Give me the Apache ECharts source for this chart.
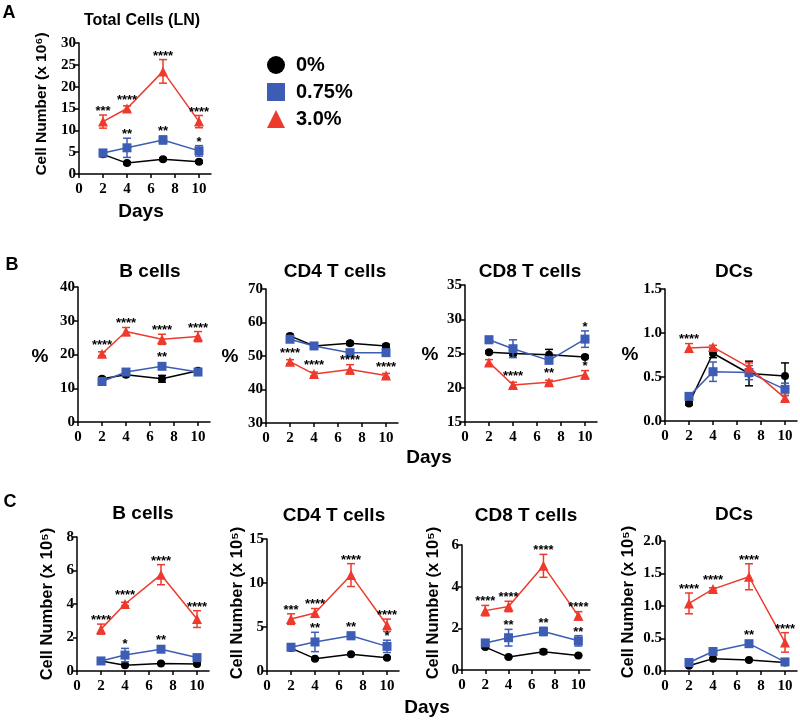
<!DOCTYPE html>
<html><head><meta charset="utf-8">
<script src="https://cdn.jsdelivr.net/npm/echarts@6/dist/echarts.min.js"></script>
<style>html,body{margin:0;padding:0;background:#fff}#c{width:800px;height:723px}</style>
</head><body><div id="c"></div><script>
// ---------------- DATA ----------------
const days = [2, 4, 7, 10];
const groupNames = ['0%', '0.75%', '3.0%'];
const xTicks = [0, 2, 4, 6, 8, 10];

// A: Total cells (LN), cell number x10^6   [0%, 0.75%, 3.0%]
const totalMean = [[4.5, 2.5, 3.4, 2.8], [4.8, 6.0, 7.8, 5.3], [12.0, 15.0, 23.5, 12.0]];
const totalErr = [[0.3, 0.3, 0.3, 0.3], [0.8, 2.2, 0.9, 1.2], [1.5, 0.6, 2.7, 1.4]];
const totalStars = [['', '', '', ''], ['', '**', '**', '*'], ['***', '****', '****', '****']];
const totalYTicks = [0, 5, 10, 15, 20, 25, 30];

// B: percentages
const bPctMean = [[12.8, 14.0, 12.8, 15.2], [12.0, 14.8, 16.5, 14.8], [20.2, 26.8, 24.5, 25.3]];
const bPctErr = [[0.5, 0.5, 1.0, 0.5], [0.6, 0.8, 0.8, 0.8], [0.6, 1.2, 1.5, 1.5]];
const bPctStars = [['', '', '', ''], ['', '', '**', ''], ['****', '****', '****', '****']];
const bPctYTicks = [0, 10, 20, 30, 40];

const cd4PctMean = [[56.0, 53.0, 53.8, 53.0], [55.0, 53.0, 51.0, 51.0], [48.3, 44.6, 46.0, 44.2]];
const cd4PctErr = [[0.5, 0.4, 0.5, 0.5], [0.6, 0.5, 0.6, 0.5], [0.6, 0.6, 1.4, 0.6]];
const cd4PctStars = [['', '', '', ''], ['', '', '*', ''], ['****', '****', '****', '****']];
const cd4PctYTicks = [30, 40, 50, 60, 70];

const cd8PctMean = [[25.2, 25.0, 24.8, 24.5], [27.0, 25.7, 24.0, 27.1], [23.7, 20.4, 20.8, 21.9]];
const cd8PctErr = [[0.2, 0.3, 0.8, 0.2], [0.5, 1.3, 0.4, 1.2], [0.4, 0.4, 0.3, 0.6]];
const cd8PctStars = [['', '', '', ''], ['', '', '', '*'], ['', '****', '**', '*']];
const cd8PctYTicks = [15, 20, 25, 30, 35];

const dcPctMean = [[0.20, 0.77, 0.54, 0.51], [0.28, 0.56, 0.55, 0.36], [0.83, 0.84, 0.61, 0.26]];
const dcPctErr = [[0.02, 0.05, 0.14, 0.15], [0.03, 0.11, 0.08, 0.07], [0.05, 0.02, 0.05, 0.03]];
const dcPctStars = [['', '', '', ''], ['', '', '', ''], ['****', '', '', '']];
const dcPctYTicks = [0, 0.5, 1.0, 1.5];

// C: cell numbers x10^5
const bNumMean = [[0.60, 0.35, 0.45, 0.42], [0.60, 0.95, 1.30, 0.80], [2.50, 4.00, 5.75, 3.10]];
const bNumErr = [[0.05, 0.05, 0.05, 0.05], [0.10, 0.40, 0.15, 0.15], [0.30, 0.10, 0.60, 0.50]];
const bNumStars = [['', '', '', ''], ['', '*', '**', ''], ['****', '****', '****', '****']];
const bNumYTicks = [0, 2, 4, 6, 8];

const cd4NumMean = [[2.6, 1.4, 1.9, 1.5], [2.7, 3.3, 4.0, 2.8], [5.9, 6.6, 10.9, 5.2]];
const cd4NumErr = [[0.1, 0.1, 0.1, 0.1], [0.2, 1.1, 0.4, 0.7], [0.6, 0.5, 1.3, 0.7]];
const cd4NumStars = [['', '', '', ''], ['', '**', '**', '*'], ['***', '****', '****', '****']];
const cd4NumYTicks = [0, 5, 10, 15];

const cd8NumMean = [[1.10, 0.62, 0.88, 0.70], [1.30, 1.55, 1.85, 1.40], [2.85, 3.05, 5.00, 2.60]];
const cd8NumErr = [[0.05, 0.03, 0.10, 0.03], [0.15, 0.40, 0.20, 0.25], [0.25, 0.25, 0.55, 0.20]];
const cd8NumStars = [['', '', '', ''], ['', '**', '**', '**'], ['****', '****', '****', '****']];
const cd8NumYTicks = [0, 2, 4, 6];

const dcNumMean = [[0.08, 0.19, 0.17, 0.13], [0.13, 0.30, 0.42, 0.14], [1.04, 1.26, 1.45, 0.44]];
const dcNumErr = [[0.01, 0.01, 0.01, 0.01], [0.02, 0.03, 0.03, 0.02], [0.16, 0.02, 0.20, 0.15]];
const dcNumStars = [['', '', '', ''], ['', '', '**', ''], ['****', '****', '****', '****']];
const dcNumYTicks = [0, 0.5, 1.0, 1.5, 2.0];

// ---------------- LAYOUT / STYLE ----------------
const colors = ['#000000', '#3d5cb4', '#ee3a2c'];
const symbols = ['circle', 'rect', 'triangle'];
const symbolSizes = [8, 9, 10];
const SANS = '"Liberation Sans", Arial, sans-serif';
const SERIF = '"Liberation Serif", "Times New Roman", serif';

const panels = [
  {mean: totalMean, err: totalErr, stars: totalStars, yt: totalYTicks, dec: 0, left: 79, top: 43, width: 132, height: 131},
  {mean: bPctMean, err: bPctErr, stars: bPctStars, yt: bPctYTicks, dec: 0, left: 78, top: 287, width: 132, height: 135},
  {mean: cd4PctMean, err: cd4PctErr, stars: cd4PctStars, yt: cd4PctYTicks, dec: 0, left: 266, top: 289, width: 132, height: 134},
  {mean: cd8PctMean, err: cd8PctErr, stars: cd8PctStars, yt: cd8PctYTicks, dec: 0, left: 465, top: 285, width: 132, height: 137},
  {mean: dcPctMean, err: dcPctErr, stars: dcPctStars, yt: dcPctYTicks, dec: 1, left: 665, top: 289, width: 132, height: 132},
  {mean: bNumMean, err: bNumErr, stars: bNumStars, yt: bNumYTicks, dec: 0, left: 77, top: 537, width: 132, height: 134},
  {mean: cd4NumMean, err: cd4NumErr, stars: cd4NumStars, yt: cd4NumYTicks, dec: 0, left: 267, top: 539, width: 132, height: 132},
  {mean: cd8NumMean, err: cd8NumErr, stars: cd8NumStars, yt: cd8NumYTicks, dec: 0, left: 462, top: 545, width: 128, height: 125},
  {mean: dcNumMean, err: dcNumErr, stars: dcNumStars, yt: dcNumYTicks, dec: 1, left: 665, top: 541, width: 132, height: 130}
];

const axisLineStyle = {color: '#000', width: 1.5};
const tickFont = {color: '#000', fontFamily: SERIF, fontWeight: 'bold', fontSize: 15};

const grid = panels.map(p => ({left: p.left, top: p.top, width: p.width, height: p.height}));
const xAxis = panels.map((p, i) => ({
  type: 'value', gridIndex: i, min: 0, max: 11,
  axisLine: {show: true, onZero: false, lineStyle: axisLineStyle},
  axisTick: {show: true, customValues: xTicks, length: 4, lineStyle: axisLineStyle},
  axisLabel: Object.assign({customValues: xTicks, margin: 8}, tickFont),
  splitLine: {show: false}
}));
const yAxis = panels.map((p, i) => ({
  type: 'value', gridIndex: i, min: p.yt[0], max: p.yt[p.yt.length - 1],
  interval: p.yt[1] - p.yt[0],
  axisLine: {show: true, onZero: false, lineStyle: axisLineStyle},
  axisTick: {show: true, customValues: p.yt, length: 4, lineStyle: axisLineStyle},
  axisLabel: Object.assign({customValues: p.yt, margin: 3, formatter: v => Number(v).toFixed(p.dec)}, tickFont),
  splitLine: {show: false}
}));

const series = [];
panels.forEach((p, i) => {
  for (let g = 0; g < 3; g++) {
    const col = colors[g];
    const means = p.mean[g], errs = p.err[g], stars = p.stars[g];
    series.push({
      type: 'custom', xAxisIndex: i, yAxisIndex: i, z: 2 + g * 2, silent: true,
      data: days.map((d, k) => [d, means[k] - errs[k], means[k] + errs[k]]),
      encode: {x: 0, y: [1, 2]},
      renderItem: (params, api) => {
        const x = api.value(0);
        const a = api.coord([x, api.value(1)]), b = api.coord([x, api.value(2)]);
        const w = 4, st = {stroke: col, lineWidth: 1.5};
        return {type: 'group', children: [
          {type: 'line', shape: {x1: a[0], y1: a[1], x2: b[0], y2: b[1]}, style: st},
          {type: 'line', shape: {x1: a[0] - w, y1: a[1], x2: a[0] + w, y2: a[1]}, style: st},
          {type: 'line', shape: {x1: b[0] - w, y1: b[1], x2: b[0] + w, y2: b[1]}, style: st}
        ]};
      }
    });
    series.push({
      type: 'line', name: groupNames[g], xAxisIndex: i, yAxisIndex: i, z: 3 + g * 2,
      data: days.map((d, k) => [d, means[k]]),
      symbol: symbols[g], symbolSize: symbolSizes[g], showSymbol: true,
      lineStyle: {color: col, width: 1.5}, itemStyle: {color: col, opacity: 1},
      emphasis: {disabled: true}, silent: true
    });
    series.push({
      type: 'custom', xAxisIndex: i, yAxisIndex: i, z: 10, silent: true,
      data: days.map((d, k) => [d, means[k] + errs[k], means[k]]),
      encode: {x: 0, y: 1},
      renderItem: (params, api) => {
        const text = stars[params.dataIndex];
        if (!text) return {type: 'group', children: []};
        const top = api.coord([api.value(0), api.value(1)]);
        const mid = api.coord([api.value(0), api.value(2)]);
        const y = Math.min(top[1], mid[1] - 5);
        return {type: 'text', x: top[0], y: y + 3,
          style: {text: text, fill: '#000', font: 'bold 13px ' + SANS, textAlign: 'center', textVerticalAlign: 'bottom'}};
      }
    });
  }
});

function txt(text, x, y, size, rot) {
  return {type: 'text', x: x, y: y, rotation: rot || 0, silent: true,
    style: {text: text, fill: '#000', font: 'bold ' + size + 'px ' + SANS, textAlign: 'center', textVerticalAlign: 'middle'}};
}
const R = Math.PI / 2;
const graphic = [
  txt('A', 9, 13, 18), txt('B', 12, 265, 18), txt('C', 10, 502, 18),
  txt('Total Cells (LN)', 142, 21, 16),
  txt('B cells', 150, 272, 19), txt('CD4 T cells', 335, 272, 19), txt('CD8 T cells', 530, 272, 19), txt('DCs', 734, 272, 19),
  txt('B cells', 143, 514, 19), txt('CD4 T cells', 334, 516, 19), txt('CD8 T cells', 526, 516, 19), txt('DCs', 734, 515, 19),
  txt('Days', 141, 212, 19), txt('Days', 429, 458, 19), txt('Days', 427, 708, 19),
  txt('Cell Number (x 10\u2076)', 42, 104, 15.5, R),
  txt('Cell Number (x 10\u2075)', 47, 604, 16.5, R), txt('Cell Number (x 10\u2075)', 237, 603, 16.5, R),
  txt('Cell Number (x 10\u2075)', 433, 603, 16.5, R), txt('Cell Number (x 10\u2075)', 628, 602, 16.5, R),
  txt('%', 40, 357, 19), txt('%', 230, 357, 19), txt('%', 430, 355, 19), txt('%', 630, 355, 19)
];

const chart = echarts.init(document.getElementById('c'), null, {renderer: 'canvas'});
chart.setOption({
  animation: false,
  backgroundColor: '#fff',
  grid: grid, xAxis: xAxis, yAxis: yAxis, series: series, graphic: graphic,
  legend: {
    data: groupNames.map((n, g) => ({name: n, icon: symbols[g]})),
    orient: 'vertical', left: 262, top: 50, itemWidth: 18, itemHeight: 18, itemGap: 7,
    selectedMode: false,
    textStyle: {fontSize: 20, fontWeight: 'bold', fontFamily: SANS, color: '#000', padding: [0, 0, 0, 6]}
  }
});
</script></body></html>
